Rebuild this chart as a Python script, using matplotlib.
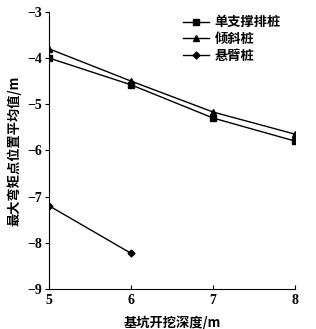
import matplotlib
matplotlib.use("Agg")
import matplotlib.pyplot as plt

# 数据
depth = [5, 6, 7, 8]
single_support = [-4.0, -4.58, -5.3, -5.8]
inclined = [-3.8, -4.5, -5.17, -5.65]
cantilever_depth = [5, 6]
cantilever = [-7.2, -8.23]

labels = ['单支撑排桩', '倾斜桩', '悬臂桩']
xticks = [5, 6, 7, 8]
yticks = [-3, -4, -5, -6, -7, -8, -9]

cjk = ['Noto Sans CJK SC', 'DejaVu Sans']
num_font = {'family': 'Liberation Serif', 'weight': 'bold', 'size': 10}

fig = plt.figure(figsize=(3.16, 3.29), dpi=100)
ax = fig.add_axes([0.155, 0.122, 0.779, 0.842])

ax.plot(depth, single_support, color='black', lw=1, marker='s', ms=4, label=labels[0])
ax.plot(depth, inclined, color='black', lw=1, marker='^', ms=4.5, label=labels[1])
ax.plot(cantilever_depth, cantilever, color='black', lw=1, marker='D', ms=3.5, label=labels[2])

ax.set_xlim(5, 8)
ax.set_ylim(-9, -3)
ax.set_xticks(xticks)
ax.set_yticks(yticks)
ax.set_xticklabels([str(v) for v in xticks], fontdict=num_font)
ax.set_yticklabels(['\u2212' + str(abs(v)) for v in yticks], fontdict=num_font)
ax.tick_params(axis='x', direction='in', length=3, width=0.8, pad=4)
ax.tick_params(axis='y', direction='out', length=3, width=0.8, pad=2)

for s in ['top', 'right']:
    ax.spines[s].set_visible(False)
for s in ['left', 'bottom']:
    ax.spines[s].set_linewidth(0.8)

ax.set_xlabel('基坑开挖深度/m', family=cjk, fontsize=9.5, weight='bold', labelpad=6)
ax.set_ylabel('最大弯矩点位置平均值/m', family=cjk, fontsize=9.5, weight='bold', labelpad=4)

ax.legend(loc='upper right', frameon=False,
          prop={'family': cjk, 'size': 9.5, 'weight': 'bold'},
          handlelength=2.0, handletextpad=0.4, labelspacing=0.2,
          bbox_to_anchor=(0.99, 1.03))

fig.savefig('out.png', dpi=100)
